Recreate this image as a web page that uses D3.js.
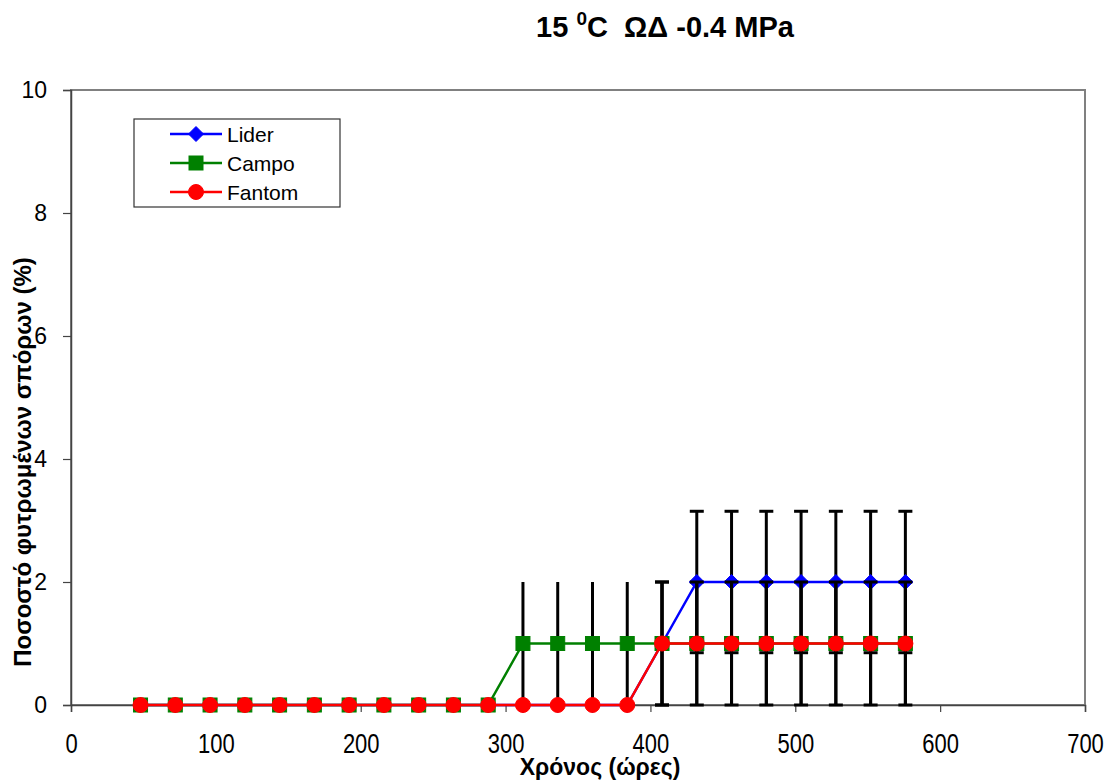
<!DOCTYPE html>
<html>
<head>
<meta charset="utf-8">
<script src="https://cdn.jsdelivr.net/npm/d3@7"></script>
<style>
  html, body { margin: 0; padding: 0; background: #fff; }
  svg { display: block; font-family: "Liberation Sans", Arial, sans-serif; }
</style>
</head>
<body>
<svg id="chart" width="1110" height="780"></svg>
<script>
// Hours after sowing
const hours = [48, 72, 96, 120, 144, 168, 192, 216, 240, 264, 288, 312, 336, 360, 384, 408, 432, 456, 480, 504, 528, 552, 576];

// Germinated seeds (%) per cultivar
const liderValues  = [0,0,0,0,0,0,0,0,0,0,0,0,0,0,0,1,2,2,2,2,2,2,2];
const campoValues  = [0,0,0,0,0,0,0,0,0,0,0,1,1,1,1,1,1,1,1,1,1,1,1];
const fantomValues = [0,0,0,0,0,0,0,0,0,0,0,0,0,0,0,1,1,1,1,1,1,1,1];

// Standard errors
const liderErr  = [0,0,0,0,0,0,0,0,0,0,0,0,0,0,0,1,1.15,1.15,1.15,1.15,1.15,1.15,1.15];
const campoErr  = [0,0,0,0,0,0,0,0,0,0,0,1,1,1,1,1,1,1,1,1,1,1,1];
const fantomErr = [0,0,0,0,0,0,0,0,0,0,0,0,0,0,0,1,1,1,1,1,1,1,1];

const xTicks = [0, 100, 200, 300, 400, 500, 600, 700];
const yTicks = [0, 2, 4, 6, 8, 10];

const seriesNames = ["Lider", "Campo", "Fantom"];

const series = [
  { name: seriesNames[0], values: liderValues,  err: liderErr,  color: "#0000ff", shape: "diamond", caps: true },
  { name: seriesNames[1], values: campoValues,  err: campoErr,  color: "#008000", shape: "square",  caps: false },
  { name: seriesNames[2], values: fantomValues, err: fantomErr, color: "#ff0000", shape: "circle",  caps: true }
];

const svg = d3.select("#chart");
const margin = { left: 71, top: 90, right: 25, bottom: 75 };
const W = 1110, H = 780;
const plotW = W - margin.left - margin.right;
const plotH = H - margin.top - margin.bottom;

const x = d3.scaleLinear().domain([0, 700]).range([margin.left, margin.left + plotW]);
const y = d3.scaleLinear().domain([0, 10]).range([margin.top + plotH, margin.top]);

// Plot frame
svg.append("rect")
  .attr("x", x(0)).attr("y", y(10))
  .attr("width", x(700) - x(0)).attr("height", y(0) - y(10))
  .attr("fill", "none").attr("stroke", "#808080").attr("stroke-width", 2);

// Axes
const xAxis = svg.append("g")
  .attr("transform", `translate(0,${y(0)})`)
  .call(d3.axisBottom(x).tickValues(xTicks).tickSize(7).tickPadding(0).tickFormat(d3.format("d")));
const yAxis = svg.append("g")
  .attr("transform", `translate(${x(0)},0)`)
  .call(d3.axisLeft(y).tickValues(yTicks).tickSize(8).tickPadding(16).tickFormat(d3.format("d")));

[xAxis, yAxis].forEach(g => {
  g.select(".domain").attr("stroke", "#444").attr("stroke-width", 1.5);
  g.selectAll(".tick line").attr("stroke", "#444").attr("stroke-width", 1.2);
  g.selectAll(".tick text").attr("fill", "#000")
    .attr("font-family", "'Liberation Sans', Arial, sans-serif");
});
yAxis.selectAll(".tick text").attr("font-size", 23);
// x tick labels: tall, narrow lettering
xAxis.selectAll(".tick text")
  .attr("font-size", 22)
  .attr("dy", null)
  .attr("y", 0)
  .attr("transform", "translate(0,48) scale(1,1.22)");

// Titles
const title = svg.append("text")
  .attr("x", 665).attr("y", 37)
  .attr("text-anchor", "middle")
  .attr("font-size", 29).attr("font-weight", "bold")
  .style("white-space", "pre");
title.append("tspan").text("15 ");
title.append("tspan").attr("font-size", 19).attr("dy", -12).text("0");
title.append("tspan").attr("dy", 12).text("C  ΩΔ -0.4 MPa");

svg.append("text")
  .attr("transform", "translate(600,775)")
  .attr("text-anchor", "middle")
  .attr("font-size", 23).attr("font-weight", "bold")
  .text("Χρόνος (ώρες)");

svg.append("text")
  .attr("transform", "translate(31,462) rotate(-90)")
  .attr("text-anchor", "middle")
  .attr("font-size", 24).attr("font-weight", "bold")
  .text("Ποσοστό φυτρωμένων σπόρων (%)");

// Marker drawing helper
function drawMarker(g, shape, cx, cy, color) {
  if (shape === "diamond") {
    g.append("path")
      .attr("d", `M${cx},${cy - 7.5}L${cx + 7.5},${cy}L${cx},${cy + 7.5}L${cx - 7.5},${cy}Z`)
      .attr("fill", color).attr("stroke", color).attr("stroke-width", 1);
  } else if (shape === "square") {
    g.append("rect")
      .attr("x", cx - 7).attr("y", cy - 7).attr("width", 14).attr("height", 14)
      .attr("fill", color).attr("stroke", color).attr("stroke-width", 1);
  } else {
    g.append("circle")
      .attr("cx", cx).attr("cy", cy).attr("r", 7.5)
      .attr("fill", color).attr("stroke", color).attr("stroke-width", 1);
  }
}

const line = d3.line().x(d => x(d[0])).y(d => y(d[1]));

series.forEach(s => {
  const g = svg.append("g");
  // Error bars
  hours.forEach((h, i) => {
    const e = s.err[i];
    if (!e) return;
    const lo = Math.max(0, s.values[i] - e), hi = s.values[i] + e;
    g.append("line")
      .attr("x1", x(h)).attr("x2", x(h))
      .attr("y1", y(lo)).attr("y2", y(hi))
      .attr("stroke", "#000").attr("stroke-width", 3);
    if (s.caps) {
      [lo, hi].forEach(v => {
        g.append("line")
          .attr("x1", x(h) - 7).attr("x2", x(h) + 7)
          .attr("y1", y(v)).attr("y2", y(v))
          .attr("stroke", "#000").attr("stroke-width", 3);
      });
    }
  });
  // Line
  g.append("path")
    .datum(hours.map((h, i) => [h, s.values[i]]))
    .attr("d", line)
    .attr("fill", "none").attr("stroke", s.color).attr("stroke-width", 2.5);
  // Markers
  hours.forEach((h, i) => drawMarker(g, s.shape, x(h), y(s.values[i]), s.color));
});

// Legend
const lg = svg.append("g");
lg.append("rect")
  .attr("x", 134).attr("y", 119).attr("width", 206).attr("height", 88)
  .attr("fill", "#fff").attr("stroke", "#333").attr("stroke-width", 1.2);
series.forEach((s, i) => {
  const cy = 134 + i * 29;
  lg.append("line")
    .attr("x1", 170).attr("x2", 222).attr("y1", cy).attr("y2", cy)
    .attr("stroke", s.color).attr("stroke-width", 2.5);
  drawMarker(lg, s.shape, 196, cy, s.color);
  lg.append("text")
    .attr("x", 227).attr("y", cy + 8)
    .attr("font-size", 21).attr("fill", "#000")
    .text(s.name);
});
</script>
</body>
</html>
